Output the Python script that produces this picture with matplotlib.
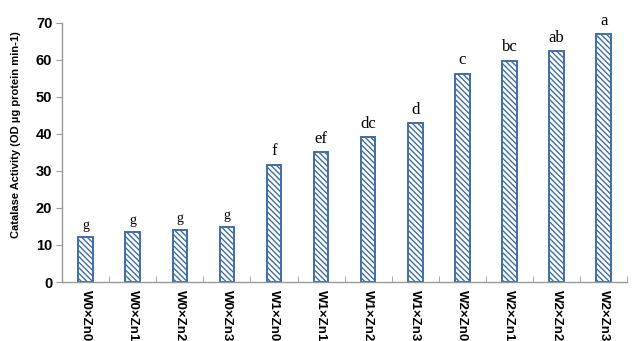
import matplotlib
matplotlib.use('Agg')
import matplotlib.pyplot as plt

# treatment combinations and catalase activity
treatments = ['W0×Zn0', 'W0×Zn1', 'W0×Zn2', 'W0×Zn3',
              'W1×Zn0', 'W1×Zn1', 'W1×Zn2', 'W1×Zn3',
              'W2×Zn0', 'W2×Zn1', 'W2×Zn2', 'W2×Zn3']
catalase = [12.1, 13.5, 14.0, 14.9, 31.7, 35.2, 39.2, 43.0, 56.3, 59.8, 62.4, 67.0]
letters = ['g', 'g', 'g', 'g', 'f', 'ef', 'dc', 'd', 'c', 'bc', 'ab', 'a']
yticks = [0, 10, 20, 30, 40, 50, 60, 70]

plt.rcParams['font.family'] = 'Liberation Sans'
plt.rcParams['hatch.linewidth'] = 1.0
plt.rcParams['hatch.color'] = '#3f6fa6'

fig = plt.figure(figsize=(6.4, 3.41), dpi=100)
ax = fig.add_axes([0.097, 0.173, 0.883, 0.76])

x = list(range(len(treatments)))
ax.bar(x, catalase, width=0.31, color='white', edgecolor='#3f6fa6',
       linewidth=1.4, hatch='\\\\\\\\\\\\')

for xi, v, s in zip(x, catalase, letters):
    fs = 10 if s == 'g' else 12
    ax.text(xi, v + 1.4, s, ha='center', va='bottom', fontsize=fs,
            family='Liberation Serif')

ax.set_xlim(-0.5, len(treatments) - 0.5)
ax.set_ylim(0, 70)
ax.set_yticks(yticks)
ax.set_yticklabels([str(t) for t in yticks], fontsize=10.5, fontweight='bold')
ax.set_xticks(x)
ax.set_xticklabels(treatments, rotation=270, fontsize=9.5, fontweight='bold')
ax.set_xticks([i - 0.5 for i in range(len(treatments) + 1)], minor=True)
ax.tick_params(axis='x', which='major', length=0, pad=6)
ax.tick_params(axis='x', which='minor', length=4, color='#999999', direction='in')
ax.tick_params(axis='y', length=4, color='#999999', pad=3)

ax.set_ylabel('Catalase Activity (OD µg protein min-1)', fontsize=8,
              fontweight='bold')
ax.yaxis.set_label_coords(-0.072, 0.57)

for side in ['top', 'right']:
    ax.spines[side].set_visible(False)
for side in ['left', 'bottom']:
    ax.spines[side].set_color('#999999')
    ax.spines[side].set_linewidth(1.0)

plt.savefig('out.png', dpi=100)
